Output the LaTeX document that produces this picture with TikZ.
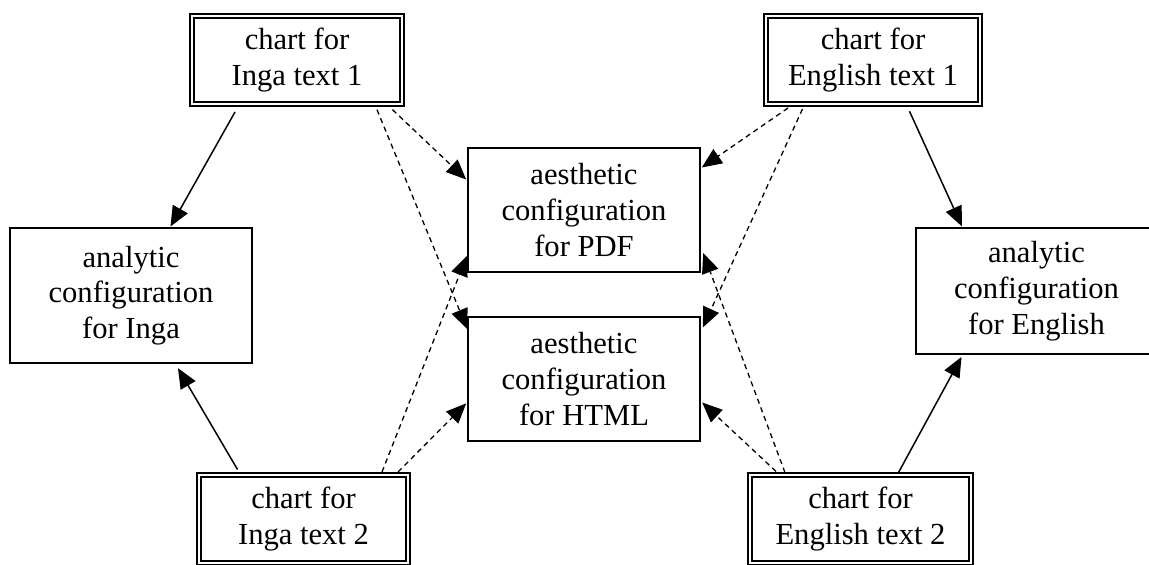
\documentclass[tikz,border=0pt]{standalone}
\usepackage{fontspec}
\setmainfont{Liberation Serif}
\usetikzlibrary{arrows.meta}
\tikzset{
  box/.style={draw, line width=0.85pt, align=center, inner sep=0pt, outer sep=0pt,
    font=\fontsize{15.3}{17.9}\selectfont},
  chart/.style={box, double, double distance=1.3pt, minimum height=44pt},
  conf/.style={box, minimum width=116.2pt, minimum height=62.2pt},
  dep/.style={-{Triangle[length=10pt,width=8.5pt]}, line width=0.75pt},
  aes/.style={dep, line width=0.65pt, dash pattern=on 2.6pt off 2pt},
}
\begin{document}
\begin{tikzpicture}[x=0.5pt,y=-0.5pt]
\useasboundingbox (0,0) rectangle (1149,565);
% charts for the texts
\node[chart, minimum width=104.9pt] (chartIa) at (297,60) {chart for\\Inga text 1};
\node[chart, minimum width=106.9pt] (chartEa) at (873,60) {chart for\\English text 1};
\node[chart, minimum width=104.5pt] (chartIb) at (303.5,519) {chart for\\Inga text 2};
\node[chart, minimum width=110.5pt] (chartEb) at (860.5,519) {chart for\\English text 2};
% configurations
\node[conf, minimum width=121.2pt, minimum height=67.7pt] (anaI) at (131,295.5) {analytic\\configuration\\for Inga};
\node[conf, minimum width=120.7pt, minimum height=63.2pt] (anaE) at (1036.5,291) {analytic\\configuration\\for English};
\node[conf] (aesPDF) at (584,210) {aesthetic\\configuration\\for PDF};
\node[conf] (aesHTML) at (584,379) {aesthetic\\configuration\\for HTML};
% analytic
\draw[dep] ([shift={(-62,8)}]chartIa.south) -- ([shift={(39.5,-1.3)}]anaI.north);
\draw[dep] ([shift={(-66,-5.5)}]chartIb.north) -- ([shift={(47,5)}]anaI.south);
\draw[dep] ([shift={(36.5,7.3)}]chartEa.south) -- ([shift={(-74.5,-1.3)}]anaE.north);
\draw[dep] ([shift={(38,-2.5)}]chartEb.north) -- ([shift={(-75,2.7)}]anaE.south);
% aesthetic
\foreach \a/\p/\b/\q in {
    chartIa.south/{95.5,5.7}/aesPDF.west/{-1.6,-30.5},
    chartIa.south/{80,5.7}/aesHTML.west/{-0.6,-50},
    chartIb.north/{78.5,-3}/aesPDF.west/{-1,46},
    chartIb.north/{94.5,-3}/aesHTML.west/{-1.6,24.4},
    chartEa.south/{-85,4}/aesPDF.east/{1.6,-42.5},
    chartEa.south/{-70.5,5}/aesHTML.east/{2.6,-51.5},
    chartEb.north/{-75.5,-2.4}/aesPDF.east/{3,43},
    chartEb.north/{-84.5,-3.6}/aesHTML.east/{2,23.5}} {
    \draw[aes] ([shift={(\p)}]\a) -- ([shift={(\q)}]\b);
}
\end{tikzpicture}
\end{document}
